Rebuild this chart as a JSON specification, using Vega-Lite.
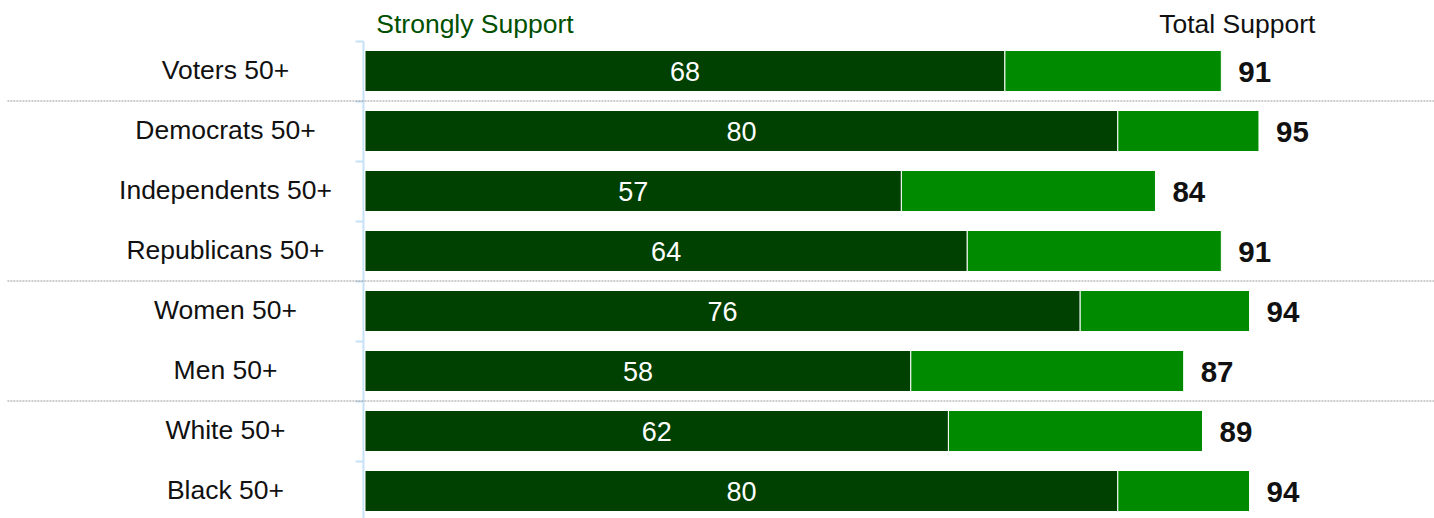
{
  "$schema": "https://vega.github.io/schema/vega-lite/v6.json",
  "width": 1069,
  "height": 480,
  "autosize": "none",
  "padding": {"left": 365, "top": 41, "right": 0, "bottom": 0},
  "background": "white",
  "config": {"view": {"stroke": null}, "font": "Liberation Sans"},
  "datasets": {
    "rows": [
      {"group": "Voters 50+", "strong": 68, "total": 91},
      {"group": "Democrats 50+", "strong": 80, "total": 95},
      {"group": "Independents 50+", "strong": 57, "total": 84},
      {"group": "Republicans 50+", "strong": 64, "total": 91},
      {"group": "Women 50+", "strong": 76, "total": 94},
      {"group": "Men 50+", "strong": 58, "total": 87},
      {"group": "White 50+", "strong": 62, "total": 89},
      {"group": "Black 50+", "strong": 80, "total": 94}
    ],
    "seps": [
      {"group": "Democrats 50+"},
      {"group": "Women 50+"},
      {"group": "White 50+"}
    ],
    "head1": [{"label": "Strongly Support", "group": "Voters 50+"}],
    "head2": [{"label": "Total Support", "group": "Voters 50+"}]
  },
  "resolve": {"scale": {"x": "independent"}},
  "layer": [
    {
      "data": {"name": "rows"},
      "mark": {"type": "bar", "height": {"band": 0.683}, "color": "#004000", "stroke": "white", "strokeWidth": 1},
      "encoding": {
        "y": {
          "field": "group", "type": "nominal", "sort": null,
          "scale": {
            "domain": ["Voters 50+", "Democrats 50+", "Independents 50+", "Republicans 50+", "Women 50+", "Men 50+", "White 50+", "Black 50+"],
            "paddingInner": 0, "paddingOuter": 0
          },
          "axis": {
            "title": null, "offset": 2, "bandPosition": 0,
            "domainColor": "#c6e2f7", "domainWidth": 2,
            "tickColor": "#c6e2f7", "tickWidth": 2, "tickSize": 8,
            "labelAlign": "center", "labelPadding": 130, "labelFontSize": 26.5,
            "labelColor": "#111111", "labelFont": "Liberation Sans", "labelLimit": 400
          }
        },
        "x": {"field": "strong", "type": "quantitative", "scale": {"domain": [0, 113.6], "nice": false}, "axis": null}
      }
    },
    {
      "data": {"name": "rows"},
      "mark": {"type": "bar", "height": {"band": 0.683}, "color": "#008a00", "stroke": "white", "strokeWidth": 1},
      "encoding": {
        "y": {"field": "group", "type": "nominal", "sort": null},
        "x": {"field": "strong", "type": "quantitative", "scale": {"domain": [0, 113.6], "nice": false}, "axis": null},
        "x2": {"field": "total"}
      }
    },
    {
      "data": {"name": "rows"},
      "mark": {"type": "text", "align": "center", "baseline": "middle", "fontSize": 27, "color": "white", "dy": 2},
      "encoding": {
        "y": {"field": "group", "type": "nominal", "sort": null},
        "x": {"field": "strong", "type": "quantitative", "scale": {"domain": [0, 227.2], "nice": false}, "axis": null},
        "text": {"field": "strong", "type": "quantitative"}
      }
    },
    {
      "data": {"name": "rows"},
      "mark": {"type": "text", "align": "left", "baseline": "middle", "fontSize": 29.5, "fontWeight": "bold", "color": "#111111", "dx": 17, "dy": 2},
      "encoding": {
        "y": {"field": "group", "type": "nominal", "sort": null},
        "x": {"field": "total", "type": "quantitative", "scale": {"domain": [0, 113.6], "nice": false}, "axis": null},
        "text": {"field": "total", "type": "quantitative"}
      }
    },
    {
      "data": {"name": "seps"},
      "mark": {"type": "rule", "color": "#999999", "strokeWidth": 1, "strokeDash": [2, 1]},
      "encoding": {
        "y": {"field": "group", "type": "nominal", "sort": null, "bandPosition": 0},
        "x": {"datum": -38, "type": "quantitative", "scale": {"domain": [0, 113.6], "nice": false}, "axis": null},
        "x2": {"datum": 113.6}
      }
    },
    {
      "data": {"name": "head1"},
      "mark": {"type": "text", "align": "left", "baseline": "alphabetic", "fontSize": 26.5, "color": "#005000", "dy": -8},
      "encoding": {
        "y": {"field": "group", "type": "nominal", "sort": null, "bandPosition": 0},
        "x": {"datum": 1.2, "type": "quantitative", "scale": {"domain": [0, 113.6], "nice": false}, "axis": null},
        "text": {"field": "label"}
      }
    },
    {
      "data": {"name": "head2"},
      "mark": {"type": "text", "align": "center", "baseline": "alphabetic", "fontSize": 26.5, "color": "#111111", "dy": -8},
      "encoding": {
        "y": {"field": "group", "type": "nominal", "sort": null, "bandPosition": 0},
        "x": {"datum": 92.7, "type": "quantitative", "scale": {"domain": [0, 113.6], "nice": false}, "axis": null},
        "text": {"field": "label"}
      }
    }
  ]
}
